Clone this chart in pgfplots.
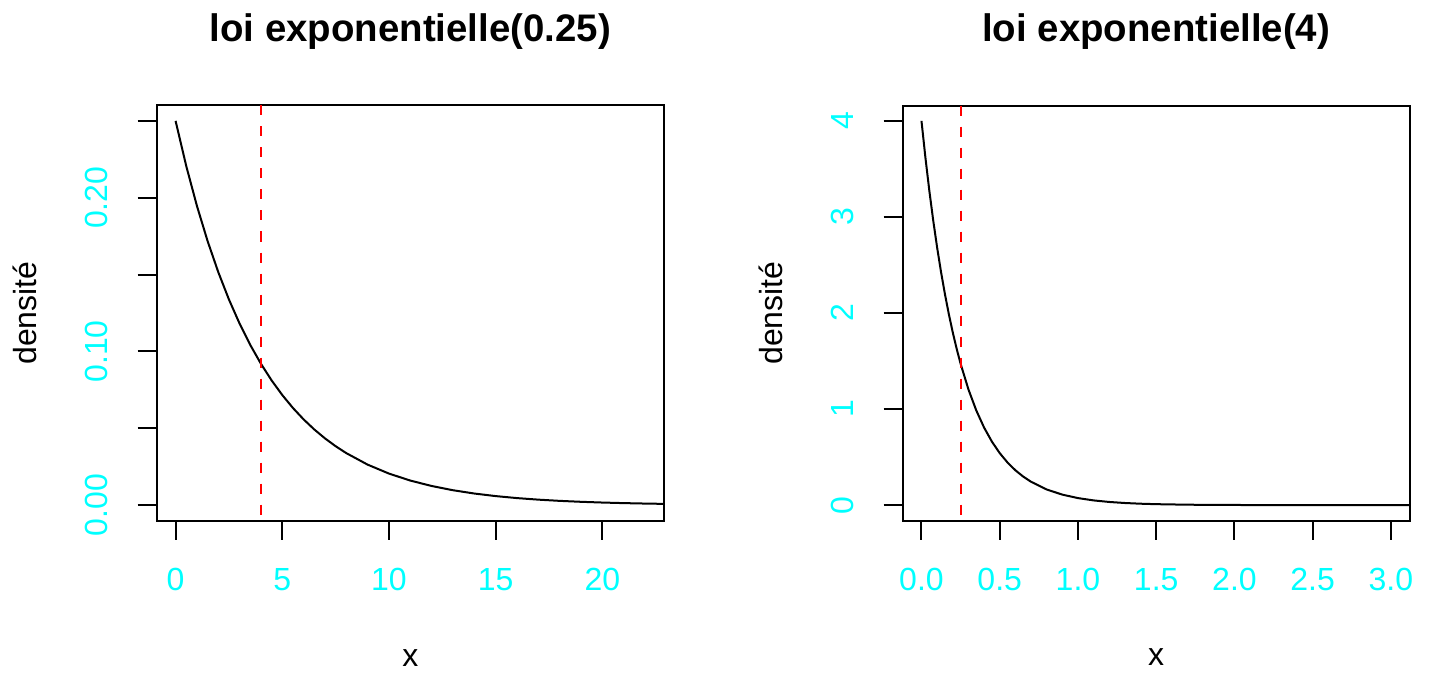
\documentclass[border=0pt]{standalone}
\usepackage{pgfplots}
\pgfplotsset{compat=1.18}
\usepackage{fontspec}
\setmainfont{Liberation Sans}
\definecolor{rcyan}{RGB}{0,255,255}
\definecolor{rred}{RGB}{255,0,0}
\begin{document}
\begin{tikzpicture}
\path[use as bounding box] (0bp,0bp) rectangle (716bp,337.5bp);
\pgfplotsset{
  rstyle/.style={
    scale only axis, width=253.5bp, height=207.5bp,
    anchor=south west,
    axis line style={line width=1bp},
    every tick/.style={black, line width=1bp},
    tick align=outside, major tick length=9.6bp,
    xtick pos=bottom, ytick pos=left,
    minor tick num=0,
    font=\fontsize{16bp}{19.2bp}\selectfont,
    ticklabel style={text=rcyan, font=\fontsize{16bp}{19.2bp}\selectfont},
    xticklabel style={anchor=base, yshift=-25.5bp},
    yticklabel style={xshift=-15bp, rotate=90, anchor=base},
    every axis title/.style={font=\bfseries\fontsize{19.2bp}{23bp}\selectfont, at={(axis description cs:0.5,1.1542)}, anchor=base},
    every axis x label/.style={at={(axis description cs:0.5,-0.3506)}, anchor=base, inner sep=1bp},
    every axis y label/.style={at={(axis description cs:-0.2367,0.5)}, anchor=base, rotate=90},
    xlabel={x}, ylabel={densité},
    clip=true,
  }
}
\begin{axis}[rstyle, at={(78.4bp,77.25bp)},
  title={loi exponentielle(0.25)},
  xmin=-0.88, xmax=22.88, ymin=-0.01, ymax=0.26,
  xtick={0,5,10,15,20}, xticklabels={0,5,10,15,20},
  ytick={0,0.05,0.10,0.15,0.20,0.25}, yticklabels={0.00,{},0.10,{},0.20,{}},
]
\addplot[black, line width=1bp] coordinates {
(0,0.25) (0.5,0.220624) (1,0.194700) (1.5,0.171822) (2,0.151633) (2.5,0.133815)
(3,0.118092) (3.5,0.104216) (4,0.091970) (4.5,0.081163) (5,0.071626) (5.5,0.063210)
(6,0.055783) (6.5,0.049228) (7,0.043444) (7.5,0.038339) (8,0.033834) (9,0.026350)
(10,0.020521) (11,0.015982) (12,0.012447) (13,0.009694) (14,0.007549) (15,0.005879)
(16,0.004579) (17,0.003566) (18,0.002777) (19,0.002163) (20,0.001684) (21,0.001312)
(22,0.001022) (22.88,0.000820)
};
\addplot[rred, line width=1bp, dash pattern=on 5bp off 5.5bp] coordinates {(4,0.26) (4,-0.01)};
\end{axis}
\begin{axis}[rstyle, at={(451.35bp,77.25bp)},
  title={loi exponentielle(4)},
  xmin=-0.12, xmax=3.12, ymin=-0.16, ymax=4.16,
  xtick={0,0.5,1,1.5,2,2.5,3}, xticklabels={0.0,0.5,1.0,1.5,2.0,2.5,3.0},
  ytick={0,1,2,3,4}, yticklabels={0,1,2,3,4},
]
\addplot[black, line width=1bp] coordinates {
(0,4) (0.025,3.619349) (0.05,3.274923) (0.075,2.963273) (0.1,2.681280) (0.125,2.426123)
(0.15,2.195247) (0.175,1.986341) (0.2,1.797316) (0.225,1.626279) (0.25,1.471518)
(0.3,1.204776) (0.35,0.986388) (0.4,0.807586) (0.45,0.661196) (0.5,0.541341)
(0.55,0.443213) (0.6,0.362872) (0.65,0.297095) (0.7,0.243240) (0.8,0.163048)
(0.9,0.109295) (1.0,0.073263) (1.1,0.049109) (1.2,0.032919) (1.3,0.022066)
(1.4,0.014791) (1.5,0.009915) (1.7,0.004455) (1.9,0.002002) (2.2,0.000603)
(2.6,0.000122) (3.12,0.000015)
};
\addplot[rred, line width=1bp, dash pattern=on 5bp off 5.5bp] coordinates {(0.25,4.16) (0.25,-0.16)};
\end{axis}
\end{tikzpicture}
\end{document}
